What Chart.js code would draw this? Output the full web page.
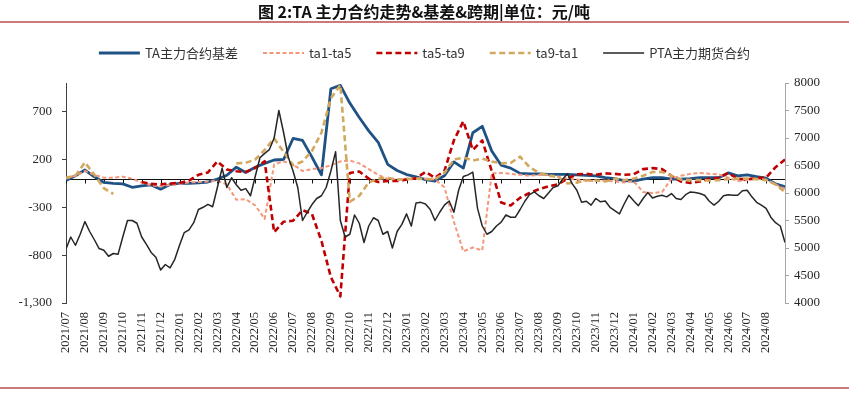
<!DOCTYPE html>
<html>
<head>
<meta charset="utf-8">
<script src="https://cdn.jsdelivr.net/npm/chart.js@4.4.0/dist/chart.umd.min.js"></script>
<style>
  html, body { margin: 0; padding: 0; background: #fff; }
</style>
</head>
<body>
<canvas id="chart" width="849" height="393"></canvas>
<script>
// ─── data ────────────────────────────────────────────────────────────────
const titleText = '图 2:TA 主力合约走势&基差&跨期|单位：元/吨';

const monthLabels = [
    '2021/07', '2021/08', '2021/09', '2021/10', '2021/11', '2021/12',
    '2022/01', '2022/02', '2022/03', '2022/04', '2022/05', '2022/06',
    '2022/07', '2022/08', '2022/09', '2022/10', '2022/11', '2022/12',
    '2023/01', '2023/02', '2023/03', '2023/04', '2023/05', '2023/06',
    '2023/07', '2023/08', '2023/09', '2023/10', '2023/11', '2023/12',
    '2024/01', '2024/02', '2024/03', '2024/04', '2024/05', '2024/06',
    '2024/07', '2024/08'
];

const seriesNames = ['TA主力合约基差', 'ta1-ta5', 'ta5-ta9', 'ta9-ta1', 'PTA主力期货合约'];

// spreads, one value every half month from 2021/07
const basis = [
    -20, 30, 90, 20, -40, -50, -55, -90, -75, -65,
    -110, -60, -50, -50, -45, -35, -5, 35, 120, 65,
    120, 160, 195, 200, 420, 400, 225, 40, 940, 975,
    790, 640, 500, 380, 150, 85, 43, 20, -10, -25,
    30, 175, 110, 480, 547, 290, 140, 110, 55, 50,
    50, 45, 45, 45, 40, 35, 30, 10, 0, -20,
    -25, -5, 10, 10, -5, -5, 0, 10, 10, 10,
    60, 30, 40, 20, 5, -55, -85
];
const ta15 = [
    0, 30, 80, 40, 10, 10, 20, 0, -40, -70,
    -80, -65, -55, -40, -35, -30, -20, -60, -220, -215,
    -280, -420, 150, 180, 150, 80, 100, 110, 140, 180,
    190, 160, 100, 40, -5, -10, 0, 5, 0, -10,
    -90, -450, -760, -720, -750, 55, 60, 50, 40, 30,
    40, 40, 20, 0, -10, -20, -25, -20, -30, -40,
    -25, -140, -150, -140, 0, 30, 50, 60, 50, 45,
    10, -25, -15, -5, -10, -60, -110
];
const ta59 = [
    null, null, null, null, null, null, null, null, -35, -55,
    -60, -50, -45, -20, 40, 65, 180, 95, 78, 70,
    112, 182, -560, -450, -440, -330, -370, -650, -1030, -1230,
    60, 75, 0, -35, -25, -25, -10, 5, 70, 10,
    80, 400, 600, 300, 400, 80, -250, -280, -200, -150,
    -110, -80, -60, 0, 45, 50, 40, 55, 50, 40,
    45, 100, 110, 100, 30, -30, -45, -30, 0, 10,
    60, 0, -10, 10, 10, 120, 200
];
const ta91 = [
    10, 30, 170, 40, -100, -160, null, null, null, null,
    null, null, null, null, null, null, null, null, 160, 165,
    200, 300, 420, 280, 140, 180, 290, 480, 840, 980,
    -240, -180, -40, 0, 10, -10, -5, 0, -5, -5,
    60, 200, 220, 190, 210, 180, 160, 165, 230, 120,
    60, 30, 20, -50, -40, -20, -20, -30, 0, -15,
    0, 30, 70, 70, 30, -10, -15, -15, -20, -15,
    -5, 0, 0, -5, -15, -60, -140
];

// PTA futures, one value every quarter month
const pta = [
    4980, 5200, 5050, 5250, 5480, 5300, 5150, 4990, 4960, 4850,
    4900, 4885, 5200, 5500, 5500, 5450, 5200, 5066, 4920, 4830,
    4600, 4700, 4640, 4794, 5050, 5280, 5330, 5460, 5700, 5740,
    5794, 5750, 6100, 6450, 6100, 6278, 6150, 6050, 6080, 5950,
    6300, 6640, 6720, 6790, 7000, 7500, 7100, 6650, 6400, 6100,
    5500, 5650, 5790, 5900, 5950, 6100, 6400, 6750, 5500, 5200,
    5250, 5600, 5450, 5100, 5400, 5550, 5500, 5250, 5300, 5000,
    5300, 5430, 5620, 5400, 5820, 5830, 5800, 5700, 5500, 5650,
    5780, 5854, 5650, 6050, 6300, 6330, 6380, 5720, 5400, 5250,
    5300, 5400, 5470, 5600, 5560, 5560, 5700, 5850, 5970, 6020,
    5950, 5900, 6000, 6100, 6130, 6250, 6350, 6170, 6050, 5830,
    5850, 5780, 5900, 5840, 5854, 5740, 5680, 5620, 5800, 5960,
    5860, 5770, 5900, 6010, 5910, 5940, 5960, 5930, 5990, 5900,
    5880, 5970, 6020, 6010, 5990, 5960, 5850, 5780, 5850, 5950,
    5970, 5960, 5960, 6040, 6050, 5930, 5830, 5780, 5720, 5560,
    5460, 5400, 5100
];

const leftTicks = [-1300, -800, -300, 200, 700];

// ─── helpers ─────────────────────────────────────────────────────────────
const toPoints = (arr, step) => arr.map((v, i) => ({ x: i * step, y: v }));
const serif = 'Liberation Serif, "Times New Roman", serif';
const cjk = '"Noto Sans CJK SC", "Noto Sans", sans-serif';

// zero line with month ticks, crossing at 0 on the left axis
const zeroLine = {
    id: 'zeroLine',
    beforeDatasetsDraw(chart) {
        const { ctx, chartArea: a, scales } = chart;
        const y0 = Math.round(scales.y.getPixelForValue(0)) + 0.5;
        ctx.save();
        ctx.strokeStyle = '#111';
        ctx.lineWidth = 1;
        ctx.beginPath();
        ctx.moveTo(a.left, y0);
        ctx.lineTo(a.right, y0);
        monthLabels.forEach((m, i) => {
            const x = Math.round(scales.x.getPixelForValue(i)) + 0.5;
            ctx.moveTo(x, y0);
            ctx.lineTo(x, y0 + 4);
        });
        ctx.stroke();
        ctx.restore();
    }
};

// title, red rules and legend
const header = {
    id: 'header',
    afterDraw(chart) {
        const ctx = chart.ctx;
        const W = chart.width;
        ctx.save();
        ctx.fillStyle = '#111';
        ctx.font = 'bold 16px ' + cjk;
        ctx.textAlign = 'center';
        ctx.textBaseline = 'middle';
        ctx.fillText(titleText, 424, 12);

        ctx.strokeStyle = '#c97b7b';
        ctx.lineWidth = 2;
        ctx.beginPath();
        ctx.moveTo(0, 22); ctx.lineTo(W, 22);
        ctx.moveTo(0, 388); ctx.lineTo(W, 388);
        ctx.stroke();

        // legend
        ctx.font = '13px ' + cjk;
        const sample = 41, gapText = 5, gapItem = 25;
        const ds = chart.data.datasets;
        const widths = ds.map(d => sample + gapText + ctx.measureText(d.label).width);
        const total = widths.reduce((s, w) => s + w, 0) + gapItem * (ds.length - 1);
        let x = (W - total) / 2;
        const ly = 53;
        ds.forEach((d, i) => {
            ctx.strokeStyle = d.borderColor;
            ctx.lineWidth = d.borderWidth;
            ctx.setLineDash(d.borderDash || []);
            ctx.beginPath();
            ctx.moveTo(x, ly);
            ctx.lineTo(x + sample, ly);
            ctx.stroke();
            ctx.setLineDash([]);
            ctx.fillStyle = '#333';
            ctx.textAlign = 'left';
            ctx.fillText(d.label, x + sample + gapText, ly);
            x += widths[i] + gapItem;
        });
        ctx.restore();
    }
};

// ─── chart ───────────────────────────────────────────────────────────────
const lineStyle = { pointRadius: 0, tension: 0, fill: false, spanGaps: false, borderJoinStyle: 'round' };

new Chart(document.getElementById('chart'), {
    type: 'line',
    data: {
        datasets: [
            { ...lineStyle, label: seriesNames[0], data: toPoints(basis, 0.5), yAxisID: 'y',
              borderColor: '#1f5284', borderWidth: 2.8, order: 4 },
            { ...lineStyle, label: seriesNames[1], data: toPoints(ta15, 0.5), yAxisID: 'y',
              borderColor: '#f4977a', borderWidth: 2, borderDash: [4, 2.5], order: 3 },
            { ...lineStyle, label: seriesNames[2], data: toPoints(ta59, 0.5), yAxisID: 'y',
              borderColor: '#c00000', borderWidth: 2.6, borderDash: [6, 3.5], order: 2 },
            { ...lineStyle, label: seriesNames[3], data: toPoints(ta91, 0.5), yAxisID: 'y',
              borderColor: '#d2a85f', borderWidth: 2.6, borderDash: [6, 3.5], order: 1 },
            { ...lineStyle, label: seriesNames[4], data: toPoints(pta, 0.25), yAxisID: 'y2',
              borderColor: '#262626', borderWidth: 1.5, order: 0 }
        ]
    },
    options: {
        responsive: false,
        animation: false,
        events: [],
        layout: { padding: { top: 83, left: 0, right: 0, bottom: 0 } },
        plugins: { legend: { display: false }, title: { display: false }, tooltip: { enabled: false } },
        scales: {
            x: {
                type: 'linear',
                min: 0,
                max: 38,
                grid: { display: false, drawTicks: false },
                border: { display: false },
                afterBuildTicks: s => { s.ticks = monthLabels.map((m, i) => ({ value: i })); },
                afterFit: s => { s.height = 90; },
                ticks: {
                    autoSkip: false,
                    minRotation: 90,
                    maxRotation: 90,
                    padding: 9,
                    color: '#262626',
                    font: { family: serif, size: 12.5 },
                    callback: v => monthLabels[v] || ''
                }
            },
            y: {
                position: 'left',
                min: -1300,
                max: 1000,
                afterBuildTicks: s => { s.ticks = leftTicks.map(v => ({ value: v })); },
                afterFit: s => { s.width = 66; },
                grid: { drawOnChartArea: false, drawTicks: true, tickLength: 4, color: '#404040' },
                border: { color: '#404040', width: 1 },
                ticks: {
                    padding: 10,
                    color: '#262626',
                    font: { family: serif, size: 13 },
                    callback: v => v.toLocaleString('en-US')
                }
            },
            y2: {
                position: 'right',
                min: 4000,
                max: 8000,
                afterFit: s => { s.width = 64; },
                grid: { drawOnChartArea: false, drawTicks: true, tickLength: 4, color: '#a6a6a6' },
                border: { color: '#a6a6a6', width: 1 },
                ticks: {
                    stepSize: 500,
                    padding: 5,
                    color: '#262626',
                    font: { family: serif, size: 13 },
                    callback: v => String(v)
                }
            }
        }
    },
    plugins: [zeroLine, header]
});
</script>
</body>
</html>
